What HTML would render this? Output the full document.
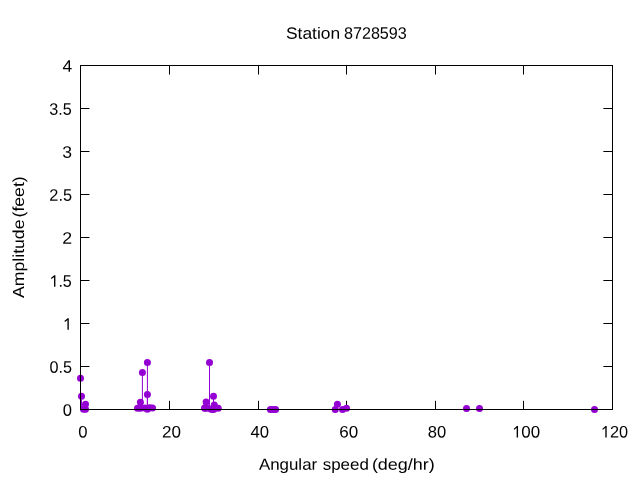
<!DOCTYPE html>
<html><head><meta charset="utf-8"><title>Station 8728593</title>
<style>html,body{margin:0;padding:0;background:#fff;overflow:hidden}svg{display:block;will-change:transform}text{font-family:"Liberation Sans",sans-serif;font-size:16px;fill:#000}</style>
</head><body>
<svg width="640" height="480" viewBox="0 0 640 480">
<rect width="640" height="480" fill="#fff"/>
<g stroke="#000" stroke-width="1" fill="none">
<path d="M80.5 409.5h9M612.5 409.5h-9.1"/>
<path d="M80.5 366.5h9M612.5 366.5h-9.1"/>
<path d="M80.5 323.5h9M612.5 323.5h-9.1"/>
<path d="M80.5 280.5h9M612.5 280.5h-9.1"/>
<path d="M80.5 237.5h9M612.5 237.5h-9.1"/>
<path d="M80.5 194.5h9M612.5 194.5h-9.1"/>
<path d="M80.5 151.5h9M612.5 151.5h-9.1"/>
<path d="M80.5 108.5h9M612.5 108.5h-9.1"/>
<path d="M80.5 65.5h9M612.5 65.5h-9.1"/>
<path d="M80.5 409.5v-8.7M80.5 65.5v9"/>
<path d="M169.5 409.5v-8.7M169.5 65.5v9"/>
<path d="M258.5 409.5v-8.7M258.5 65.5v9"/>
<path d="M346.5 409.5v-8.7M346.5 65.5v9"/>
<path d="M435.5 409.5v-8.7M435.5 65.5v9"/>
<path d="M523.5 409.5v-8.7M523.5 65.5v9"/>
<path d="M612.5 409.5v-8.7M612.5 65.5v9"/>
</g>
<g stroke="#9400d3" stroke-width="1" fill="none">
<path d="M80.5 409.5V378.3"/>
<path d="M81.5 409.5V396.3"/>
<path d="M85.5 409.5V404.2"/>
<path d="M147.4 409.5V362.4"/>
<path d="M142.4 409.5V372.6"/>
<path d="M147.4 409.5V394.5"/>
<path d="M140.4 409.5V402.2"/>
<path d="M137.5 409.5V408.2"/>
<path d="M140.5 409.5V408.3"/>
<path d="M144.8 409.5V408.0"/>
<path d="M149.8 409.5V407.7"/>
<path d="M152.5 409.5V408.1"/>
<path d="M209.5 409.5V362.4"/>
<path d="M213.5 409.5V396.3"/>
<path d="M206.1 409.5V402.0"/>
<path d="M214.3 409.5V405.0"/>
<path d="M204.6 409.5V408.0"/>
<path d="M204.9 409.5V408.3"/>
<path d="M207.0 409.5V408.2"/>
<path d="M218.2 409.5V408.3"/>
<path d="M337.4 409.5V404.25"/>
<path d="M346.5 409.5V408.25"/>
<path d="M466.5 409.5V408.5"/>
<path d="M479.5 409.5V408.5"/>
</g>
<g fill="#9400d3">
<circle cx="80.5" cy="378.3" r="3.5"/>
<circle cx="81.5" cy="396.3" r="3.5"/>
<circle cx="85.5" cy="404.2" r="3.5"/>
<circle cx="83.5" cy="409.3" r="3.5"/>
<circle cx="85.5" cy="409.3" r="3.5"/>
<circle cx="147.4" cy="362.4" r="3.5"/>
<circle cx="142.4" cy="372.6" r="3.5"/>
<circle cx="147.4" cy="394.5" r="3.5"/>
<circle cx="140.4" cy="402.2" r="3.5"/>
<circle cx="137.5" cy="408.2" r="3.5"/>
<circle cx="140.5" cy="408.3" r="3.5"/>
<circle cx="144.8" cy="408.0" r="3.5"/>
<circle cx="147.4" cy="409.3" r="3.5"/>
<circle cx="149.8" cy="407.7" r="3.5"/>
<circle cx="152.5" cy="408.1" r="3.5"/>
<circle cx="209.5" cy="362.4" r="3.5"/>
<circle cx="213.5" cy="396.3" r="3.5"/>
<circle cx="206.1" cy="402.0" r="3.5"/>
<circle cx="214.3" cy="405.0" r="3.5"/>
<circle cx="204.6" cy="408.0" r="3.5"/>
<circle cx="204.9" cy="408.3" r="3.5"/>
<circle cx="207.0" cy="408.2" r="3.5"/>
<circle cx="211.1" cy="409.0" r="3.5"/>
<circle cx="211.5" cy="409.3" r="3.5"/>
<circle cx="213.4" cy="409.3" r="3.5"/>
<circle cx="213.8" cy="409.3" r="3.5"/>
<circle cx="218.2" cy="408.3" r="3.5"/>
<circle cx="270.4" cy="409.5" r="3.5"/>
<circle cx="273.0" cy="409.5" r="3.5"/>
<circle cx="275.6" cy="409.5" r="3.5"/>
<circle cx="337.4" cy="404.25" r="3.5"/>
<circle cx="335.25" cy="409.5" r="3.5"/>
<circle cx="342.5" cy="409.5" r="3.5"/>
<circle cx="346.5" cy="408.25" r="3.5"/>
<circle cx="466.5" cy="408.5" r="3.5"/>
<circle cx="479.5" cy="408.5" r="3.5"/>
<circle cx="594.5" cy="409.4" r="3.5"/>
</g>
<rect x="80.5" y="65.5" width="532.0" height="344.0" fill="none" stroke="#000" stroke-width="1" shape-rendering="crispEdges"/>
<text transform="translate(62.85 415.65) rotate(0.03) scale(1.0361 1.04)">0</text>
<text transform="translate(49.47 372.65) rotate(0.03) scale(1.0143 1.04)">0.5</text>
<path transform="translate(63.06 329.65) scale(1 1.0)" d="M5.74 0H4.37V-8.1Q4.37 -9 4.42 -9.65Q4.1 -9.3 3.55 -8.85L2 -7.6L1.28 -8.55L4.58 -11.42H5.74Z" fill="#000"/>
<path transform="translate(49.65 286.65) scale(1 1.0)" d="M5.74 0H4.37V-8.1Q4.37 -9 4.42 -9.65Q4.1 -9.3 3.55 -8.85L2 -7.6L1.28 -8.55L4.58 -11.42H5.74Z" fill="#000"/>
<text transform="translate(58.39 286.65) rotate(0.03) scale(1.0067 1.04)">.5</text>
<text transform="translate(62.27 243.65) rotate(0.03) scale(1.1119 1.04)">2</text>
<text transform="translate(49.33 200.65) rotate(0.03) scale(1.0204 1.04)">2.5</text>
<text transform="translate(62.31 157.65) rotate(0.03) scale(1.1016 1.04)">3</text>
<text transform="translate(49.27 114.65) rotate(0.03) scale(1.0143 1.04)">3.5</text>
<text transform="translate(62.49 71.65) rotate(0.03) scale(1.0938 1.04)">4</text>
<text transform="translate(78.25 437.45) rotate(0.03) scale(1.0426 1.04)">0</text>
<text transform="translate(162.00 437.45) rotate(0.03) scale(1.0687 1.04)">20</text>
<text transform="translate(250.51 437.45) rotate(0.03) scale(1.0448 1.04)">40</text>
<text transform="translate(339.27 437.45) rotate(0.03) scale(1.0646 1.04)">60</text>
<text transform="translate(427.82 437.45) rotate(0.03) scale(1.0382 1.04)">80</text>
<path transform="translate(512.30 437.45) scale(1 1.0)" d="M5.74 0H4.37V-8.1Q4.37 -9 4.42 -9.65Q4.1 -9.3 3.55 -8.85L2 -7.6L1.28 -8.55L4.58 -11.42H5.74Z" fill="#000"/>
<text transform="translate(521.24 437.45) rotate(0.03) scale(1.0606 1.04)">00</text>
<path transform="translate(600.95 437.45) scale(1 1.0)" d="M5.74 0H4.37V-8.1Q4.37 -9 4.42 -9.65Q4.1 -9.3 3.55 -8.85L2 -7.6L1.28 -8.55L4.58 -11.42H5.74Z" fill="#000"/>
<text transform="translate(610.04 437.45) rotate(0.03) scale(1.0198 1.04)">20</text>
<text transform="translate(285.98 38.80) rotate(0.03) scale(1.0875 1.02)">Station</text>
<text transform="translate(343.99 38.80) rotate(0.03) scale(1.0094 1.04)">8728593</text>
<text transform="translate(258.90 469.70) rotate(0.03) scale(1.0569 1.0)">Angular</text>
<text transform="translate(322.67 469.70) rotate(0.03) scale(1.0595 1.0)">speed</text>
<text transform="translate(371.88 469.70) rotate(0.03) scale(1.1241 1.0)">(deg/hr)</text>
<text transform="translate(23.90 298.00) rotate(-89.97) scale(1.1041 1.0)">Amplitude</text>
<text transform="translate(23.90 217.51) rotate(-89.97) scale(1.1053 1.0)">(feet)</text>
</svg></body></html>
